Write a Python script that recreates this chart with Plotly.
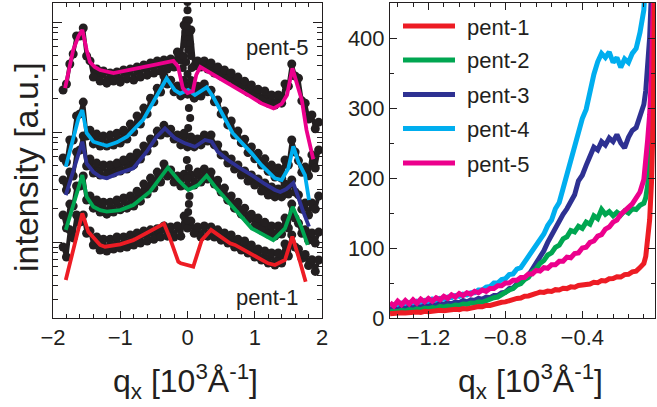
import plotly.graph_objects as go

FONT = "Liberation Sans, Arial, Helvetica, sans-serif"
INK = "#231f20"
W, H = 657, 407

names = ["pent-1", "pent-2", "pent-3", "pent-4", "pent-5"]
colors = ["#ed1c24", "#00a651", "#2e3192", "#00aeef", "#ec008c"]

# ---------------- left panel: measured q_x scans (log intensity) ----------------
q_scan = [-1.85, -1.80, -1.75, -1.70, -1.65, -1.60, -1.55, -1.50, -1.45, -1.40,
          -1.35, -1.30, -1.25, -1.20, -1.15, -1.10, -1.05, -1.00, -0.95, -0.90,
          -0.85, -0.80, -0.75, -0.70, -0.65, -0.60, -0.55, -0.50, -0.45, -0.40,
          -0.35, -0.30, -0.25, -0.20, -0.15, -0.10, -0.05, 0.00, 0.05, 0.10,
          0.15, 0.20, 0.25, 0.30, 0.35, 0.40, 0.45, 0.50, 0.55, 0.60,
          0.65, 0.70, 0.75, 0.80, 0.85, 0.90, 0.95, 1.00, 1.05, 1.10,
          1.15, 1.20, 1.25, 1.30, 1.35, 1.40, 1.45, 1.50, 1.55, 1.60,
          1.65, 1.70, 1.75, 1.80, 1.85, 1.90, 1.95]

scan_1 = [0.90, 0.73, 1.29, 1.09, 1.76, 1.52, 1.76, 1.20, 1.26, 0.94,
          1.11, 0.846, 1.06, 0.828, 1.06, 0.864, 1.11, 0.881, 1.11, 0.90,
          1.16, 0.94, 1.21, 0.98, 1.26, 1.02, 1.29, 1.06, 1.32, 1.11,
          1.40, 1.13, 1.37, 1.11, 1.40, 1.13, 1.72, 1.34, 1.55, 1.20,
          1.37, 1.11, 1.40, 1.13, 1.37, 1.11, 1.29, 1.04, 1.21, 0.98,
          1.16, 0.90, 1.06, 0.846, 1.02, 0.794, 0.94, 0.73, 0.864, 0.686,
          0.83, 0.644, 0.795, 0.617, 0.795, 0.644, 0.959, 0.746, 1.16, 0.90,
          0.86, 0.71, 0.77, 0.61, 0.69, 0.54, 0.686]

scan_2 = [1.76, 1.34, 2.21, 2.12, 3.23, 3.23, 3.98, 2.41, 2.62, 2.03,
          2.41, 1.87, 2.30, 1.79, 2.30, 1.87, 2.41, 1.96, 2.51, 2.03,
          2.62, 2.12, 2.90, 2.35, 3.36, 2.73, 3.81, 3.10, 4.32, 3.51,
          5.12, 3.98, 4.51, 3.51, 3.98, 3.23, 4.14, 3.23, 4.07, 3.29,
          4.32, 3.51, 4.61, 3.74, 4.32, 3.36, 3.65, 2.85, 3.09, 2.40,
          2.62, 2.03, 2.30, 1.79, 2.03, 1.59, 1.79, 1.40, 1.65, 1.28,
          1.51, 1.18, 1.40, 1.13, 1.40, 1.18, 1.65, 1.34, 2.21, 1.65,
          1.48, 1.20, 1.29, 1.04, 1.21, 0.98, 1.23]

scan_3 = [3.66, 2.97, 4.33, 3.98, 6.58, 6.87, 9.2, 4.91, 5.69, 4.24,
          5.22, 4.07, 5.01, 4.07, 5.01, 4.24, 5.22, 4.42, 5.57, 4.61,
          5.93, 5.02, 6.45, 5.69, 7.46, 6.72, 8.64, 7.96, 10.2, 9.39,
          11.5, 9.8, 10.6, 8.64, 9.39, 7.63, 9.77, 7.32, 9.0, 7.32,
          8.64, 7.63, 9.39, 8.29, 9.39, 7.63, 7.62, 6.19, 6.18, 5.23,
          5.69, 4.61, 5.01, 4.07, 4.42, 3.59, 4.07, 3.29, 3.74, 2.91,
          3.44, 2.67, 3.16, 2.57, 3.03, 2.57, 3.37, 2.73, 3.66, 2.85,
          2.68, 1.99, 2.26, 1.76, 2.26, 1.99, 2.62]

scan_4 = [5.81, 5.34, 8.46, 8.46, 14.0, 14.6, 18.7, 9.2, 10.4, 7.79,
          9.58, 7.47, 9.18, 7.47, 9.38, 7.62, 9.77, 7.95, 10.4, 8.64,
          11.8, 9.99, 14.0, 11.8, 16.5, 14.6, 20.3, 18.8, 25.0, 23.1,
          32.3, 27.3, 29.6, 23.2, 26.2, 21.3, 27.3, 22.1, 26.2, 20.3,
          26.1, 21.2, 27.3, 23.2, 24.0, 18.8, 19.5, 14.6, 15.5, 11.6,
          12.6, 9.4, 10.2, 8.0, 8.6, 6.5, 7.3, 5.7, 6.4, 5.0,
          5.7, 4.4, 5.0, 3.9, 4.7, 3.8, 5.56, 5.01, 8.46, 6.58,
          5.5, 4.3, 4.8, 4.0, 6.19, 4.71, 6.87]

scan_5 = [24.1, 27.3, 41.5, 51.2, 74.6, 74.6, 88.2, 49.1, 44.3, 31.6,
          37.4, 29.1, 35.9, 27.8, 34.4, 29.1, 35.2, 28.4, 36.7, 30.4,
          37.4, 29.7, 39.0, 31.6, 40.7, 32.9, 42.5, 34.4, 44.3, 35.8,
          45.2, 37.4, 46.2, 39.0, 53.4, 45.2, 94.0, 68.6, 84.6, 39.8,
          44.3, 39.0, 44.3, 37.4, 42.5, 34.4, 39.0, 32.3, 36.7, 30.4,
          34.4, 27.8, 31.6, 25.7, 29.0, 23.1, 26.8, 21.7, 24.5, 19.5,
          23.6, 18.3, 21.7, 17.6, 21.7, 18.3, 27.3, 26.1, 41.5, 32.3,
          30.9, 19.2, 18.3, 13.1, 14.3, 10.7, 12.3]

# specular rod around q_x = 0
spec_q = [-0.09, 0.08, -0.06, 0.05, -0.07, 0.06, -0.06, 0.05, -0.04, 0.04,
          -0.03, 0.03, -0.02, 0.02, 0.00, 0.00, -0.01, 0.01, -0.02, 0.00,
          0.02, 0.04, 0.01, -0.01, 0.02, 0.00, 0.03, 0.02, 0.01, 0.00]
spec_i = [25.1, 25.1, 29.7, 29.7, 38.2, 38.2, 49.1, 49.1, 63.1, 63.1,
          81.1, 81.1, 104, 104, 128, 152, 92, 55.7, 43.3, 33.6,
          16.5, 13.4, 10.9, 5.56, 4.71, 3.82, 2.62, 2.21, 1.87, 1.58]

# model curves
fit_q_1 = [-1.81, -1.70, -1.564, -1.475, -1.30, -1.227, -1.00, -0.806, -0.558, -0.35,
           -0.26, -0.137, -0.10, 0.086, 0.211, 0.35, 0.632, 0.706, 1.20, 1.30,
           1.45, 1.559, 1.673, 1.757]
fit_1 = [0.452, 0.846, 1.82, 1.24, 0.94, 0.906, 0.953, 1.04, 1.24, 1.47,
         1.08, 0.662, 0.64, 0.597, 1.04, 1.29, 0.973, 0.94, 0.64, 0.618,
         0.686, 1.12, 0.662, 0.436]

fit_q_2 = [-1.81, -1.70, -1.564, -1.50, -1.40, -1.30, -1.20, -1.00, -0.806, -0.558,
           -0.29, -0.137, 0.012, 0.16, 0.285, 0.41, 0.632, 0.706, 0.955, 1.276,
           1.45, 1.564, 1.70, 1.787]
fit_2 = [1.29, 2.17, 4.06, 2.58, 2.09, 1.95, 1.89, 1.95, 2.17, 2.87,
         4.76, 3.66, 2.97, 3.30, 4.00, 3.18, 2.25, 1.95, 1.33, 1.04,
         1.33, 2.09, 1.33, 0.94]

fit_q_3 = [-1.81, -1.70, -1.564, -1.50, -1.40, -1.30, -1.20, -1.05, -0.806, -0.607,
           -0.458, -0.335, -0.186, -0.037, 0.112, 0.26, 0.36, 0.45, 0.60, 0.80,
           0.955, 1.15, 1.30, 1.38, 1.47, 1.573, 1.64, 1.72, 1.807]
fit_3 = [2.67, 4.5, 8.16, 5.19, 4.33, 3.92, 3.79, 4.15, 4.68, 6.62,
         9.06, 10.8, 8.77, 7.89, 7.35, 8.46, 8.16, 6.62, 5.56, 4.61,
         4.06, 3.37, 2.97, 2.85, 3.03, 3.44, 2.56, 1.89, 1.38]

fit_q_4 = [-1.81, -1.70, -1.62, -1.564, -1.50, -1.40, -1.30, -1.20, -1.05, -0.90,
           -0.66, -0.46, -0.31, -0.19, -0.11, 0.01, 0.11, 0.285, 0.38, 0.46,
           0.67, 0.955, 1.10, 1.30, 1.40, 1.50, 1.573, 1.648, 1.747, 1.807]
fit_4 = [4.84, 8.46, 13.4, 15.85, 9.8, 8.16, 7.78, 7.5, 8.05, 9.06,
         12.9, 20.9, 30.8, 24.1, 22.4, 24.1, 21.7, 25.5, 20.9, 17.0,
         9.8, 6.4, 5.0, 3.79, 3.66, 4.68, 7.4, 5.36, 4.06, 2.41]

fit_q_5 = [-1.82, -1.70, -1.62, -1.564, -1.50, -1.45, -1.38, -1.30, -1.10, -0.80,
           -0.46, -0.21, -0.14, -0.07, 0.00, 0.08, 0.13, 0.19, 0.46, 0.70,
           0.90, 1.10, 1.28, 1.40, 1.48, 1.56, 1.62, 1.70, 1.77, 1.87]
fit_5 = [25.1, 55.7, 74.6, 84.7, 55.7, 43.3, 39.0, 36.6, 34.4, 37.2,
         41.2, 44.3, 39.3, 25.1, 22.6, 23.6, 33.0, 39.0, 31.4, 25.8,
         21.7, 18.2, 16.4, 18.0, 21.7, 37.9, 28.6, 19.5, 10.4, 5.65]

# ---------------- right panel: linear intensity near the specular edge ----------------
q_lin = [-1.40, -1.38, -1.36, -1.34, -1.32, -1.30, -1.28, -1.26, -1.24, -1.22,
         -1.20, -1.18, -1.16, -1.14, -1.12, -1.10, -1.08, -1.06, -1.04, -1.02,
         -1.00, -0.98, -0.96, -0.94, -0.92, -0.90, -0.88, -0.86, -0.84, -0.82,
         -0.80, -0.78, -0.76, -0.74, -0.72, -0.70, -0.68, -0.66, -0.64, -0.62,
         -0.60, -0.58, -0.56, -0.54, -0.52, -0.50, -0.48, -0.46, -0.44, -0.42,
         -0.40, -0.38, -0.36, -0.34, -0.32, -0.30, -0.28, -0.26, -0.24, -0.22,
         -0.20, -0.18, -0.16, -0.14, -0.12, -0.10, -0.08, -0.07, -0.06, -0.05,
         -0.04, -0.03, -0.02]

lin_1 = [6, 7, 6.5, 7.5, 7, 8, 7.5, 8.5, 8, 9.5,
         9, 10, 9.5, 11, 10.5, 11.5, 11, 12.5, 12, 13.5,
         13, 14.5, 15, 16.5, 16, 18, 18, 20, 20.5, 22.5,
         23, 25, 25.5, 28, 28.5, 31, 31.5, 34, 35, 37,
         36.5, 38.5, 38, 40.5, 40, 42.5, 42, 44.5, 44, 46.5,
         47, 49, 48.5, 51, 50.5, 53.5, 53, 56, 56.5, 59,
         58.5, 62, 62.5, 66, 67, 72, 78, 88, 108, 140,
         195, 300, 600]

lin_2 = [9, 10, 9, 11, 10, 12, 11, 13, 12, 14,
         13.5, 15, 14, 16.5, 15.5, 17, 16.5, 18.5, 18, 20,
         19.5, 21.5, 21, 23, 22.5, 25, 26, 29, 30, 34,
         36, 40, 42, 47, 49, 55, 58, 66, 70, 78,
         82, 90, 93, 101, 104, 113, 116, 125, 123, 131,
         128, 137, 134, 146, 142, 155, 148, 152, 146, 151,
         147, 153, 150, 156, 155, 161, 164, 172, 190, 232,
         300, 420, 600]

lin_3 = [12, 14, 11, 15, 13, 16, 14, 17, 15, 18,
         16, 19, 18, 21, 19, 22, 20, 23, 22, 25,
         23, 26, 25, 28, 27, 30, 29, 32, 32, 36,
         37, 42, 43, 49, 50, 57, 61, 70, 77, 88,
         96, 108, 118, 130, 137, 148, 156, 168, 176, 196,
         204, 218, 232, 244, 240, 252, 247, 257, 252, 262,
         250, 243, 258, 268, 272, 290, 305, 325, 355, 400,
         470, 600, 700]

lin_4 = [16, 19, 17, 21, 19, 22, 20, 24, 22, 25,
         23, 27, 25, 28, 27, 30, 29, 32, 31, 34,
         33, 36, 36, 40, 40, 44, 45, 50, 50, 55,
         56, 62, 63, 70, 72, 80, 86, 95, 102, 112,
         120, 132, 140, 156, 165, 185, 205, 228, 244, 262,
         285, 298, 325, 348, 366, 378, 372, 380, 365, 372,
         358, 370, 365, 378, 385, 408, 440, 470, 520, 600,
         700, 800, 900]

lin_5 = [22, 17, 24, 19, 25, 20, 26, 21, 27, 23,
         28, 24, 29, 26, 31, 28, 33, 30, 35, 32,
         36, 34, 38, 36, 40, 38, 42, 42, 46, 46,
         50, 50, 54, 54, 58, 58, 63, 63, 68, 67,
         72, 71, 76, 76, 81, 81, 87, 86, 92, 93,
         100, 101, 108, 110, 117, 119, 127, 130, 137, 140,
         148, 152, 158, 163, 171, 180, 198, 220, 255, 290,
         350, 460, 600]

scans = [scan_1, scan_2, scan_3, scan_4, scan_5]
fits = [(fit_q_1, fit_1), (fit_q_2, fit_2), (fit_q_3, fit_3), (fit_q_4, fit_4), (fit_q_5, fit_5)]
lins = [lin_1, lin_2, lin_3, lin_4, lin_5]

fig = go.Figure()

dot = dict(size=9, color=INK, line=dict(width=0))
# scans: dense dots joined by a thin trace of the same ink so the scatter reads as a band
for s in scans:
    fig.add_trace(go.Scatter(x=q_scan, y=s, mode="lines+markers", marker=dot,
                             line=dict(color=INK, width=4),
                             xaxis="x", yaxis="y", showlegend=False, hoverinfo="skip"))
fig.add_trace(go.Scatter(x=spec_q, y=spec_i, mode="markers", marker=dict(size=8, color=INK),
                         xaxis="x", yaxis="y", showlegend=False, hoverinfo="skip"))

for (fq, fv), c, n in zip(fits, colors, names):
    fig.add_trace(go.Scatter(x=fq, y=fv, mode="lines", name=n,
                             line=dict(color=c, width=3.8),
                             xaxis="x", yaxis="y", showlegend=False))

# drawing order on the right: pent-4, pent-3, pent-2, pent-5, pent-1 on top
for k in [3, 2, 1, 4, 0]:
    fig.add_trace(go.Scatter(x=q_lin, y=lins[k], mode="lines", name=names[k],
                             line=dict(color=colors[k], width=5),
                             xaxis="x2", yaxis="y2", showlegend=False))

tickfont = dict(family=FONT, size=22, color=INK)
common = dict(showline=True, linecolor=INK, linewidth=1, mirror="ticks",
              ticks="inside", tickcolor=INK, tickwidth=1, showgrid=False,
              zeroline=False, tickfont=tickfont, automargin=False)
ydom = [1 - 318 / H, 1 - 3 / H]

fig.update_layout(
    width=W, height=H,
    margin=dict(l=0, r=0, t=0, b=0, pad=0),
    paper_bgcolor="white", plot_bgcolor="white",
    showlegend=False,
    xaxis=dict(domain=[53 / W, 322 / W], range=[-2, 2], dtick=1, ticklen=7,
               minor=dict(dtick=0.2, ticklen=4, ticks="inside", tickcolor=INK),
               anchor="y", **common),
    yaxis=dict(domain=ydom, type="log", range=[-0.691, 2.173], dtick=1, ticklen=9,
               showticklabels=False,
               minor=dict(dtick="D1", ticklen=5, ticks="inside", tickcolor=INK),
               anchor="x", **common),
    xaxis2=dict(domain=[390 / W, 655 / W], range=[-1.4, -0.022], dtick=0.4, tick0=0,
                ticklen=7,
                minor=dict(dtick=0.08, tick0=0, ticklen=4, ticks="inside", tickcolor=INK),
                anchor="y2", **common),
    yaxis2=dict(domain=ydom, range=[0, 450], dtick=100, ticklen=7,
                minor=dict(dtick=50, ticklen=4, ticks="inside", tickcolor=INK),
                anchor="x2", **common),
)

def px(x):
    return x / W

def py(y):
    return 1 - y / H

xtitle = "q<sub>x</sub> [10<sup>3</sup>Å<sup>-1</sup>]"
ann = [
    dict(x=px(185), y=py(381), text=xtitle, font=dict(family=FONT, size=32, color=INK)),
    dict(x=px(530), y=py(381), text=xtitle, font=dict(family=FONT, size=32, color=INK)),
    dict(x=px(26), y=py(167), text="intensity [a.u.]", textangle=-90,
         font=dict(family=FONT, size=34, color=INK)),
    dict(x=px(310), y=py(47), text="pent-5", xanchor="right",
         font=dict(family=FONT, size=22, color=INK)),
    dict(x=px(300), y=py(297), text="pent-1", xanchor="right",
         font=dict(family=FONT, size=22, color=INK)),
]

# legend of the right panel
leg_y = [26, 60, 94.5, 128.5, 163]
shapes = []
for yc, c, n in zip(leg_y, colors, names):
    shapes.append(dict(type="line", xref="paper", yref="paper",
                       x0=px(403), x1=px(455), y0=py(yc), y1=py(yc),
                       line=dict(color=c, width=5)))
    ann.append(dict(x=px(465), y=py(yc + 1), text=n, xanchor="left",
                    font=dict(family=FONT, size=22, color=INK)))

for a in ann:
    a.setdefault("xanchor", "center")
    a.setdefault("yanchor", "middle")
    a.update(xref="paper", yref="paper", showarrow=False)

fig.update_layout(annotations=ann, shapes=shapes)
fig.write_html("out.html")
